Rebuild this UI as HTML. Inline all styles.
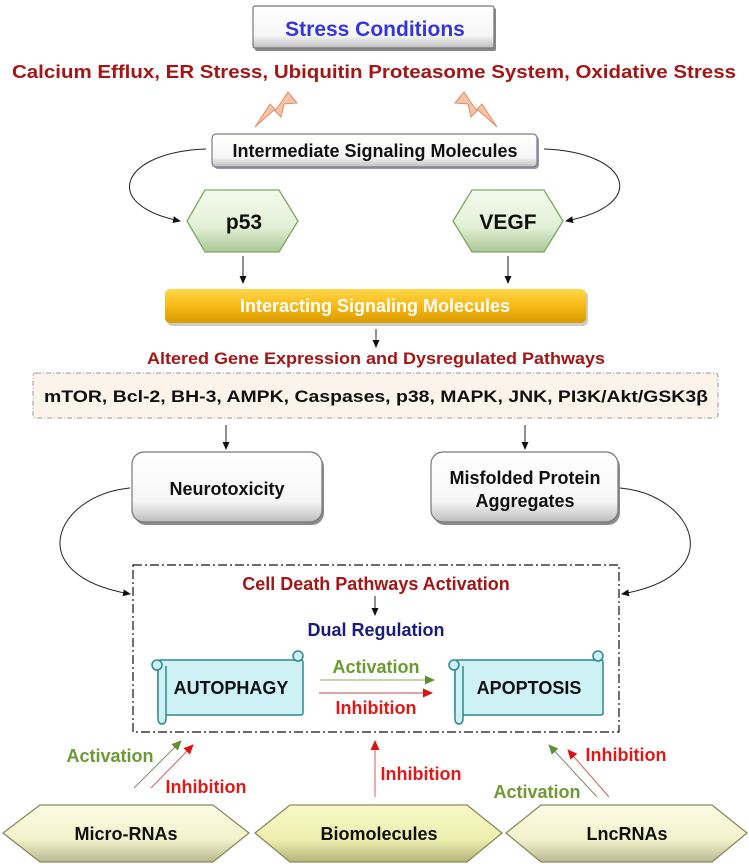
<!DOCTYPE html>
<html><head><meta charset="utf-8"><style>
html,body{margin:0;padding:0;background:#fff}
svg{display:block}
text{font-family:"Liberation Sans",Arial,sans-serif;font-weight:bold}
</style></head><body>
<svg width="749" height="864" viewBox="0 0 749 864" xmlns="http://www.w3.org/2000/svg">
<defs>
<marker id="ab" markerWidth="8" markerHeight="8" refX="7" refY="4" orient="auto" markerUnits="userSpaceOnUse"><path d="M0,0.5 L8,4 L0,7.5 z" fill="#111"/></marker>
<marker id="ag" markerWidth="10" markerHeight="9" refX="9" refY="4.5" orient="auto" markerUnits="userSpaceOnUse"><path d="M0,0 L10,4.5 L0,9 z" fill="#5f8f30"/></marker>
<marker id="ar" markerWidth="10" markerHeight="9" refX="9" refY="4.5" orient="auto" markerUnits="userSpaceOnUse"><path d="M0,0 L10,4.5 L0,9 z" fill="#e01010"/></marker>
<linearGradient id="gw" x1="0" y1="0" x2="0" y2="1"><stop offset="0" stop-color="#fff"/><stop offset="0.7" stop-color="#f6f6f6"/><stop offset="1" stop-color="#bdbdbd"/></linearGradient>
<linearGradient id="gg" x1="0" y1="0" x2="0" y2="1"><stop offset="0" stop-color="#f4faee"/><stop offset="0.6" stop-color="#e2f0d6"/><stop offset="1" stop-color="#a9c796"/></linearGradient>
<linearGradient id="go" x1="0" y1="0" x2="0" y2="1"><stop offset="0" stop-color="#ffd84a"/><stop offset="0.5" stop-color="#f7b916"/><stop offset="1" stop-color="#d99a00"/></linearGradient>
<linearGradient id="gy" x1="0" y1="0" x2="0" y2="1"><stop offset="0" stop-color="#fbfbe6"/><stop offset="0.6" stop-color="#f2f2cc"/><stop offset="1" stop-color="#b8b890"/></linearGradient>
<linearGradient id="gy2" x1="0" y1="0" x2="0" y2="1"><stop offset="0" stop-color="#f8f8c8"/><stop offset="0.6" stop-color="#eeeeb0"/><stop offset="1" stop-color="#b5b57a"/></linearGradient>
</defs>

<rect x="255" y="8" width="241" height="43" rx="2" fill="#888"/>
<rect x="253" y="6" width="241" height="42" rx="2" fill="url(#gw)" stroke="#777" stroke-width="1.2"/>
<text x="375" y="36" font-size="21" fill="#3535dd" text-anchor="middle">Stress Conditions</text>
<text x="374" y="78" font-size="18" fill="#a51515" text-anchor="middle" textLength="724" lengthAdjust="spacingAndGlyphs">Calcium Efflux, ER Stress, Ubiquitin Proteasome System, Oxidative Stress</text>

<path d="M255,127 L270,104 L276,110 L288,92 L297,103 L284,104 L281,117 L274,110 Z" fill="#f7c3a6" stroke="#d9906a" stroke-width="1"/>
<path d="M497,127 L482,104 L476,110 L464,92 L455,103 L468,104 L471,117 L478,110 Z" fill="#f7c3a6" stroke="#d9906a" stroke-width="1"/>

<rect x="214" y="136" width="325" height="33" rx="4" fill="#9a9a9a"/>
<rect x="212" y="134" width="325" height="33" rx="4" fill="url(#gw)" stroke="#7a7a9a" stroke-width="1.2"/>
<text x="375" y="157" font-size="18" fill="#111" text-anchor="middle">Intermediate Signaling Molecules</text>

<path d="M206,149 C120,152 100,205 180,221" fill="none" stroke="#222" stroke-width="1" marker-end="url(#ab)"/>
<path d="M544,149 C630,152 650,205 566,221" fill="none" stroke="#222" stroke-width="1" marker-end="url(#ab)"/>

<polygon points="205,190 279,190 298,221 279,252 205,252 187,221" fill="url(#gg)" stroke="#7aa860" stroke-width="1.3"/>
<text x="244" y="229" font-size="21" fill="#111" text-anchor="middle">p53</text>
<polygon points="472,190 544,190 563,221 544,252 472,252 453,221" fill="url(#gg)" stroke="#7aa860" stroke-width="1.3"/>
<text x="508" y="229" font-size="21" fill="#111" text-anchor="middle">VEGF</text>

<line x1="243" y1="256" x2="243" y2="283" stroke="#222" stroke-width="1" marker-end="url(#ab)"/>
<line x1="508" y1="256" x2="508" y2="283" stroke="#222" stroke-width="1" marker-end="url(#ab)"/>

<rect x="167" y="291" width="421" height="35" rx="5" fill="#aaa" opacity="0.6"/>
<rect x="165" y="289" width="421" height="34" rx="5" fill="url(#go)"/>
<text x="375" y="312" font-size="18" fill="#fff" text-anchor="middle">Interacting Signaling Molecules</text>

<line x1="376" y1="329" x2="376" y2="347" stroke="#222" stroke-width="1" marker-end="url(#ab)"/>
<text x="376" y="364" font-size="17" fill="#a51515" text-anchor="middle" textLength="458" lengthAdjust="spacingAndGlyphs">Altered Gene Expression and Dysregulated Pathways</text>

<rect x="33" y="373" width="685" height="45" rx="3" fill="#fcf4ea" stroke="#999" stroke-width="1" stroke-dasharray="5,2,1,2"/>
<text x="376" y="402" font-size="17" fill="#111" text-anchor="middle" textLength="664" lengthAdjust="spacingAndGlyphs">mTOR, Bcl-2, BH-3, AMPK, Caspases, p38, MAPK, JNK, PI3K/Akt/GSK3β</text>

<line x1="226" y1="425" x2="226" y2="449" stroke="#222" stroke-width="1" marker-end="url(#ab)"/>
<line x1="525" y1="425" x2="525" y2="449" stroke="#222" stroke-width="1" marker-end="url(#ab)"/>

<rect x="134" y="455" width="190" height="70" rx="12" fill="#8c8c8c"/>
<rect x="132" y="452" width="190" height="70" rx="12" fill="url(#gw)" stroke="#777" stroke-width="1.2"/>
<text x="227" y="495" font-size="18" fill="#111" text-anchor="middle">Neurotoxicity</text>
<rect x="433" y="455" width="187" height="70" rx="12" fill="#8c8c8c"/>
<rect x="431" y="452" width="187" height="70" rx="12" fill="url(#gw)" stroke="#777" stroke-width="1.2"/>
<text x="525" y="484" font-size="18" fill="#111" text-anchor="middle">Misfolded Protein</text>
<text x="525" y="507" font-size="18" fill="#111" text-anchor="middle">Aggregates</text>

<path d="M130,488 C55,495 20,575 130,594" fill="none" stroke="#222" stroke-width="1" marker-end="url(#ab)"/>
<path d="M620,488 C695,495 730,575 622,594" fill="none" stroke="#222" stroke-width="1" marker-end="url(#ab)"/>

<rect x="133" y="565" width="486" height="167" fill="none" stroke="#111" stroke-width="1.2" stroke-dasharray="9,3,2,3"/>
<text x="376" y="590" font-size="18" fill="#a51515" text-anchor="middle">Cell Death Pathways Activation</text>
<line x1="375" y1="596" x2="375" y2="615" stroke="#222" stroke-width="1" marker-end="url(#ab)"/>
<text x="376" y="636" font-size="18" fill="#1a1a80" text-anchor="middle">Dual Regulation</text>

<g fill="#cdf1f5" stroke="#2e8a8a" stroke-width="1.5">
<rect x="158" y="660" width="145" height="55" rx="2"/>
<path d="M158,666 L158,718 Q158,724 162,724 Q166,724 166,718 L166,666"/>
<circle cx="157" cy="665" r="5"/>
<circle cx="298" cy="656" r="5"/>
<rect x="455" y="660" width="148" height="55" rx="2"/>
<path d="M455,666 L455,718 Q455,724 459,724 Q463,724 463,718 L463,666"/>
<circle cx="454" cy="665" r="5"/>
<circle cx="598" cy="656" r="5"/>
</g>
<text x="231" y="694" font-size="18" fill="#111" text-anchor="middle">AUTOPHAGY</text>
<text x="529" y="694" font-size="18" fill="#111" text-anchor="middle">APOPTOSIS</text>

<line x1="320" y1="680" x2="434" y2="680" stroke="#9cbf78" stroke-width="1.3" marker-end="url(#ag)"/>
<line x1="319" y1="693" x2="432" y2="693" stroke="#c87070" stroke-width="1.3" marker-end="url(#ar)"/>
<text x="376" y="673" font-size="18" fill="#6c9a32" text-anchor="middle">Activation</text>
<text x="376" y="714" font-size="18" fill="#e01818" text-anchor="middle">Inhibition</text>

<line x1="134" y1="788" x2="181" y2="741" stroke="#7a8a70" stroke-width="1" marker-end="url(#ag)"/>
<line x1="151" y1="788" x2="193" y2="745" stroke="#d06060" stroke-width="1" marker-end="url(#ar)"/>
<text x="110" y="762" font-size="18" fill="#6c9a32" text-anchor="middle">Activation</text>
<text x="206" y="793" font-size="18" fill="#e01818" text-anchor="middle">Inhibition</text>

<line x1="375" y1="797" x2="375" y2="741" stroke="#d06060" stroke-width="1" marker-end="url(#ar)"/>
<text x="421" y="780" font-size="18" fill="#e01818" text-anchor="middle">Inhibition</text>

<line x1="597" y1="797" x2="549" y2="745" stroke="#7a8a70" stroke-width="1" marker-end="url(#ag)"/>
<line x1="609" y1="797" x2="568" y2="750" stroke="#d06060" stroke-width="1" marker-end="url(#ar)"/>
<text x="626" y="761" font-size="18" fill="#e01818" text-anchor="middle">Inhibition</text>
<text x="537" y="798" font-size="18" fill="#6c9a32" text-anchor="middle">Activation</text>

<polygon points="40,805 213,805 249,833 213,862 40,862 3,833" fill="url(#gy)" stroke="#8a8a5a" stroke-width="1.3"/>
<text x="126" y="840" font-size="18" fill="#111" text-anchor="middle">Micro-RNAs</text>
<polygon points="290,805 467,805 502,833 467,862 290,862 255,833" fill="url(#gy2)" stroke="#8a8a5a" stroke-width="1.3"/>
<text x="379" y="840" font-size="18" fill="#111" text-anchor="middle">Biomolecules</text>
<polygon points="541,805 712,805 747,833 712,862 541,862 506,833" fill="url(#gy)" stroke="#8a8a5a" stroke-width="1.3"/>
<text x="627" y="840" font-size="18" fill="#111" text-anchor="middle">LncRNAs</text>
</svg>
</body></html>
